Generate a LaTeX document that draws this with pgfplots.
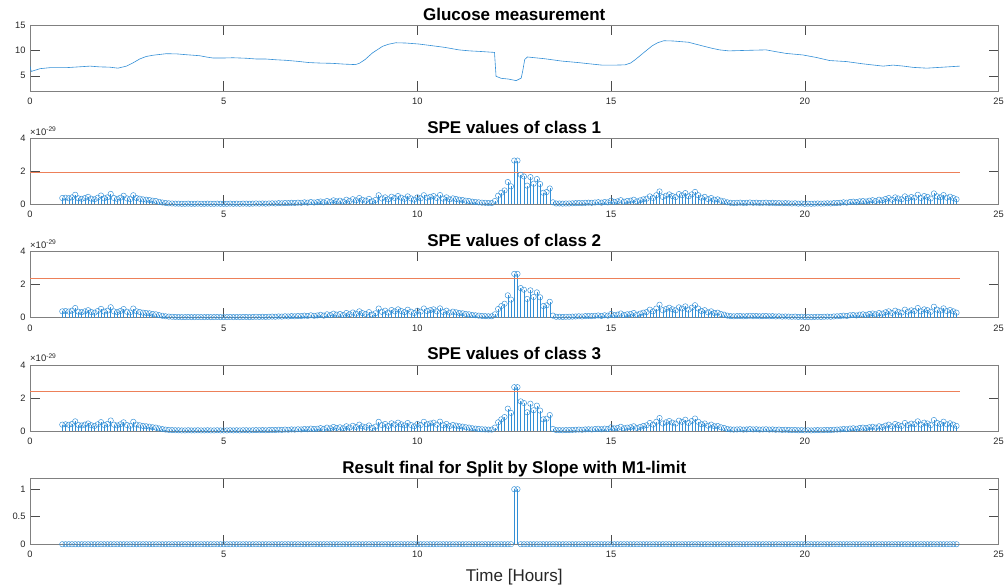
\documentclass[border=0pt]{standalone}
\usepackage{fontspec}
\setmainfont{Liberation Sans}
\usepackage{pgfplots}
\usepackage{pgfplotstable}
\pgfplotsset{compat=1.18}

\definecolor{mblue}{rgb}{0.20,0.56,0.84}
\definecolor{morange}{RGB}{237,128,89}
\definecolor{maxis}{rgb}{0.15,0.15,0.15}

% SPE statistic (units of 1e-29) and final decision, sampled every 5 minutes
\pgfplotstableread[row sep=\\]{
m spe res \\
50 0.38 0 \\ 55 0.40 0 \\
60 0.37 0 \\ 65 0.42 0 \\ 70 0.58 0 \\ 75 0.36 0 \\ 80 0.33 0 \\ 85 0.38 0 \\ 90 0.45 0 \\ 95 0.34 0 \\ 100 0.30 0 \\ 105 0.40 0 \\ 110 0.53 0 \\ 115 0.36 0 \\
120 0.42 0 \\ 125 0.63 0 \\ 130 0.38 0 \\ 135 0.33 0 \\ 140 0.40 0 \\ 145 0.52 0 \\ 150 0.36 0 \\ 155 0.31 0 \\ 160 0.55 0 \\ 165 0.38 0 \\ 170 0.34 0 \\ 175 0.30 0 \\
180 0.28 0 \\ 185 0.26 0 \\ 190 0.22 0 \\ 195 0.20 0 \\ 200 0.15 0 \\ 205 0.11 0 \\ 210 0.08 0 \\ 215 0.06 0 \\ 220 0.05 0 \\ 225 0.04 0 \\ 230 0.04 0 \\ 235 0.03 0 \\
240 0.03 0 \\ 245 0.04 0 \\ 250 0.03 0 \\ 255 0.03 0 \\ 260 0.04 0 \\ 265 0.03 0 \\ 270 0.03 0 \\ 275 0.04 0 \\ 280 0.03 0 \\ 285 0.03 0 \\ 290 0.04 0 \\ 295 0.03 0 \\
300 0.03 0 \\ 305 0.03 0 \\ 310 0.04 0 \\ 315 0.03 0 \\ 320 0.04 0 \\ 325 0.03 0 \\ 330 0.04 0 \\ 335 0.04 0 \\ 340 0.03 0 \\ 345 0.04 0 \\ 350 0.05 0 \\ 355 0.04 0 \\
360 0.05 0 \\ 365 0.04 0 \\ 370 0.05 0 \\ 375 0.06 0 \\ 380 0.05 0 \\ 385 0.07 0 \\ 390 0.06 0 \\ 395 0.08 0 \\ 400 0.07 0 \\ 405 0.09 0 \\ 410 0.08 0 \\ 415 0.10 0 \\
420 0.09 0 \\ 425 0.12 0 \\ 430 0.10 0 \\ 435 0.14 0 \\ 440 0.11 0 \\ 445 0.13 0 \\ 450 0.17 0 \\ 455 0.12 0 \\ 460 0.20 0 \\ 465 0.15 0 \\ 470 0.24 0 \\ 475 0.18 0 \\
480 0.22 0 \\ 485 0.16 0 \\ 490 0.28 0 \\ 495 0.20 0 \\ 500 0.31 0 \\ 505 0.24 0 \\ 510 0.38 0 \\ 515 0.27 0 \\ 520 0.22 0 \\ 525 0.33 0 \\ 530 0.18 0 \\ 535 0.26 0 \\
540 0.55 0 \\ 545 0.35 0 \\ 550 0.42 0 \\ 555 0.30 0 \\ 560 0.46 0 \\ 565 0.38 0 \\ 570 0.50 0 \\ 575 0.40 0 \\ 580 0.33 0 \\ 585 0.48 0 \\ 590 0.36 0 \\ 595 0.28 0 \\
600 0.42 0 \\ 605 0.36 0 \\ 610 0.55 0 \\ 615 0.40 0 \\ 620 0.45 0 \\ 625 0.50 0 \\ 630 0.38 0 \\ 635 0.56 0 \\ 640 0.34 0 \\ 645 0.42 0 \\ 650 0.30 0 \\ 655 0.36 0 \\
660 0.32 0 \\ 665 0.28 0 \\ 670 0.26 0 \\ 675 0.22 0 \\ 680 0.20 0 \\ 685 0.16 0 \\ 690 0.14 0 \\ 695 0.12 0 \\ 700 0.10 0 \\ 705 0.09 0 \\ 710 0.08 0 \\ 715 0.08 0 \\
720 0.20 0 \\ 725 0.52 0 \\ 730 0.70 0 \\ 735 0.84 0 \\ 740 1.35 0 \\ 745 1.09 0 \\ 750 2.65 1 \\ 755 2.65 1 \\ 760 1.79 0 \\ 765 1.69 0 \\ 770 1.13 0 \\ 775 1.65 0 \\
780 1.25 0 \\ 785 1.53 0 \\ 790 1.23 0 \\ 795 0.70 0 \\ 800 0.74 0 \\ 805 0.96 0 \\ 810 0.12 0 \\ 815 0.05 0 \\ 820 0.05 0 \\ 825 0.04 0 \\ 830 0.05 0 \\ 835 0.05 0 \\
840 0.06 0 \\ 845 0.07 0 \\ 850 0.08 0 \\ 855 0.07 0 \\ 860 0.09 0 \\ 865 0.10 0 \\ 870 0.09 0 \\ 875 0.11 0 \\ 880 0.13 0 \\ 885 0.10 0 \\ 890 0.14 0 \\ 895 0.12 0 \\
900 0.22 0 \\ 905 0.15 0 \\ 910 0.18 0 \\ 915 0.25 0 \\ 920 0.16 0 \\ 925 0.20 0 \\ 930 0.22 0 \\ 935 0.28 0 \\ 940 0.18 0 \\ 945 0.24 0 \\ 950 0.30 0 \\ 955 0.34 0 \\
960 0.48 0 \\ 965 0.38 0 \\ 970 0.55 0 \\ 975 0.78 0 \\ 980 0.45 0 \\ 985 0.52 0 \\ 990 0.60 0 \\ 995 0.50 0 \\ 1000 0.44 0 \\ 1005 0.62 0 \\ 1010 0.55 0 \\ 1015 0.68 0 \\
1020 0.48 0 \\ 1025 0.60 0 \\ 1030 0.75 0 \\ 1035 0.55 0 \\ 1040 0.40 0 \\ 1045 0.45 0 \\ 1050 0.32 0 \\ 1055 0.38 0 \\ 1060 0.28 0 \\ 1065 0.30 0 \\ 1070 0.22 0 \\ 1075 0.18 0 \\
1080 0.12 0 \\ 1085 0.09 0 \\ 1090 0.08 0 \\ 1095 0.09 0 \\ 1100 0.10 0 \\ 1105 0.08 0 \\ 1110 0.09 0 \\ 1115 0.11 0 \\ 1120 0.09 0 \\ 1125 0.10 0 \\ 1130 0.08 0 \\ 1135 0.09 0 \\
1140 0.10 0 \\ 1145 0.08 0 \\ 1150 0.09 0 \\ 1155 0.07 0 \\ 1160 0.08 0 \\ 1165 0.06 0 \\ 1170 0.07 0 \\ 1175 0.06 0 \\ 1180 0.05 0 \\ 1185 0.06 0 \\ 1190 0.04 0 \\ 1195 0.05 0 \\
1200 0.03 0 \\ 1205 0.04 0 \\ 1210 0.03 0 \\ 1215 0.04 0 \\ 1220 0.05 0 \\ 1225 0.04 0 \\ 1230 0.05 0 \\ 1235 0.06 0 \\ 1240 0.05 0 \\ 1245 0.07 0 \\ 1250 0.08 0 \\ 1255 0.09 0 \\
1260 0.12 0 \\ 1265 0.10 0 \\ 1270 0.14 0 \\ 1275 0.16 0 \\ 1280 0.13 0 \\ 1285 0.18 0 \\ 1290 0.20 0 \\ 1295 0.17 0 \\ 1300 0.22 0 \\ 1305 0.25 0 \\ 1310 0.20 0 \\ 1315 0.28 0 \\
1320 0.24 0 \\ 1325 0.32 0 \\ 1330 0.38 0 \\ 1335 0.28 0 \\ 1340 0.42 0 \\ 1345 0.35 0 \\ 1350 0.30 0 \\ 1355 0.48 0 \\ 1360 0.36 0 \\ 1365 0.44 0 \\ 1370 0.40 0 \\ 1375 0.58 0 \\
1380 0.38 0 \\ 1385 0.50 0 \\ 1390 0.45 0 \\ 1395 0.35 0 \\ 1400 0.66 0 \\ 1405 0.48 0 \\ 1410 0.42 0 \\ 1415 0.56 0 \\ 1420 0.40 0 \\ 1425 0.46 0 \\ 1430 0.38 0 \\ 1435 0.30 0 \\
}\spetable

\pgfplotsset{
  panel/.style={
    scale only axis, width=968.5bp, height=66bp,
    anchor=south west,
    xmin=0, xmax=25, xtick={0,5,10,15,20,25},
    tick align=inside, major tick length=9.7bp,
    axis line style={draw=black!50, line width=0.5bp},
    every tick/.style={draw=black!70, line width=0.5bp},
    tick label style={font=\fontsize{9.3bp}{11bp}\selectfont, text=maxis},
    /pgf/number format/assume math mode=true,
    xticklabel shift=3.5bp, yticklabel shift=1bp,
    title style={font=\fontsize{17bp}{19bp}\selectfont\bfseries,
      anchor=base, at={(0.5,1)}, yshift=-1bp},
  },
  % exponent written above the top-left corner of an SPE panel
  exponent/.style={
    after end axis/.code={
      \node[anchor=base west, inner sep=0pt, text=maxis,
        font=\fontsize{9.5bp}{10bp}\selectfont, yshift=3bp]
        at (rel axis cs:0,1)
        {\texttimes10\textsuperscript{-29}};
    },
  },
  stem/.style={draw=mblue, ycomb, line width=0.45bp, mark=o, mark size=2.7bp,
    mark options={line width=0.45bp, draw=mblue, fill=none}},
  limit/.style={draw=morange, line width=0.8bp, mark=none, solid, sharp plot},
  % limit drawn as a thin filled band (same look as a 0.8bp line)
  limitband/.style={fill=morange, draw=none, mark=none},
}

\begin{document}
\begin{tikzpicture}
\path[use as bounding box] (0,0) rectangle (1006bp,-585bp);

% glucose
\begin{axis}[panel, at={(30bp,-91bp)}, ymin=2, ymax=15, ytick={5,10,15},
  title={Glucose measurement}]
\addplot[draw=mblue, line width=0.6bp] coordinates {
(0,6.9) (0.03,5.85) (0.26,6.4) (0.52,6.6) (0.94,6.6) (1.25,6.75) (1.55,6.9)
(1.8,6.75) (2.05,6.7) (2.27,6.5) (2.49,6.9) (2.65,7.5) (2.83,8.3) (3.0,8.8)
(3.18,9.05) (3.52,9.35) (3.8,9.3) (4.03,9.15) (4.38,8.95) (4.55,8.7) (4.72,8.5)
(5.0,8.5) (5.24,8.55) (5.58,8.45) (5.85,8.3) (6.09,8.3) (6.35,8.15) (6.6,8.05)
(6.9,7.85) (7.2,7.6) (7.5,7.5) (7.8,7.45) (8.1,7.3) (8.4,7.2) (8.5,7.45)
(8.65,8.2) (8.84,9.5) (9.0,10.3) (9.1,10.8) (9.25,11.2) (9.44,11.5) (9.7,11.45)
(10.04,11.25) (10.4,10.9) (10.7,10.6) (11.07,10.1) (11.35,9.9) (11.6,9.8)
(11.99,9.6) (12.03,4.9) (12.16,4.5) (12.35,4.35) (12.55,4.05) (12.68,4.55)
(12.72,6.0) (12.77,8.2) (12.84,8.7) (13.29,8.35) (13.72,7.9) (14.15,7.6)
(14.45,7.35) (14.76,7.1) (15.1,7.1) (15.36,7.15) (15.5,7.5) (15.62,8.15)
(15.85,9.6) (16.06,10.9) (16.2,11.5) (16.36,11.9) (16.6,11.85) (17.0,11.6)
(17.3,11.0) (17.61,10.4) (17.8,10.1) (18.04,9.9) (18.48,10.0) (19.0,10.1)
(19.25,9.75) (19.52,9.4) (19.95,9.1) (20.3,8.6) (20.64,8.0) (21.07,7.8)
(21.5,7.35) (22.02,6.9) (22.28,7.1) (22.55,6.9) (22.8,6.65) (23.15,6.5)
(23.58,6.7) (24.0,6.9)};
\end{axis}

% SPE class 1
\begin{axis}[panel, exponent, at={(30bp,-204.3bp)}, ymin=0, ymax=4, ytick={0,2,4},
  title={SPE values of class 1}]
\addplot[stem] table[x expr=\thisrow{m}/60, y=spe] {\spetable};
\addplot[limit] coordinates {(0,1.95) (24,1.95)};
\end{axis}

% SPE class 2
\begin{axis}[panel, exponent, at={(30bp,-317.6bp)}, ymin=0, ymax=4, ytick={0,2,4},
  title={SPE values of class 2}]
\addplot[stem] table[x expr=\thisrow{m}/60, y=spe] {\spetable};
\addplot[limit] coordinates {(0,2.39) (24,2.39)};
\end{axis}

% SPE class 3
\begin{axis}[panel, exponent, at={(30bp,-430.9bp)}, ymin=0, ymax=4, ytick={0,2,4},
  title={SPE values of class 3}]
\addplot[stem] table[x expr=\thisrow{m}/60, y=spe] {\spetable};
\addplot[limitband] coordinates {(0,2.366) (24,2.366) (24,2.414) (0,2.414)} -- cycle;
\end{axis}

% final result
\begin{axis}[panel, at={(30bp,-544.2bp)}, ymin=0, ymax=1.2, ytick={0,0.5,1},
  title={Result final for Split by Slope with M1-limit},
  xlabel={Time [Hours]},
  xlabel style={font=\fontsize{17bp}{19bp}\selectfont, text=maxis,
    anchor=base, at={(0.5,0)}, yshift=-37bp}]
\addplot[stem] table[x expr=\thisrow{m}/60, y=res] {\spetable};
\end{axis}
\end{tikzpicture}
\end{document}
